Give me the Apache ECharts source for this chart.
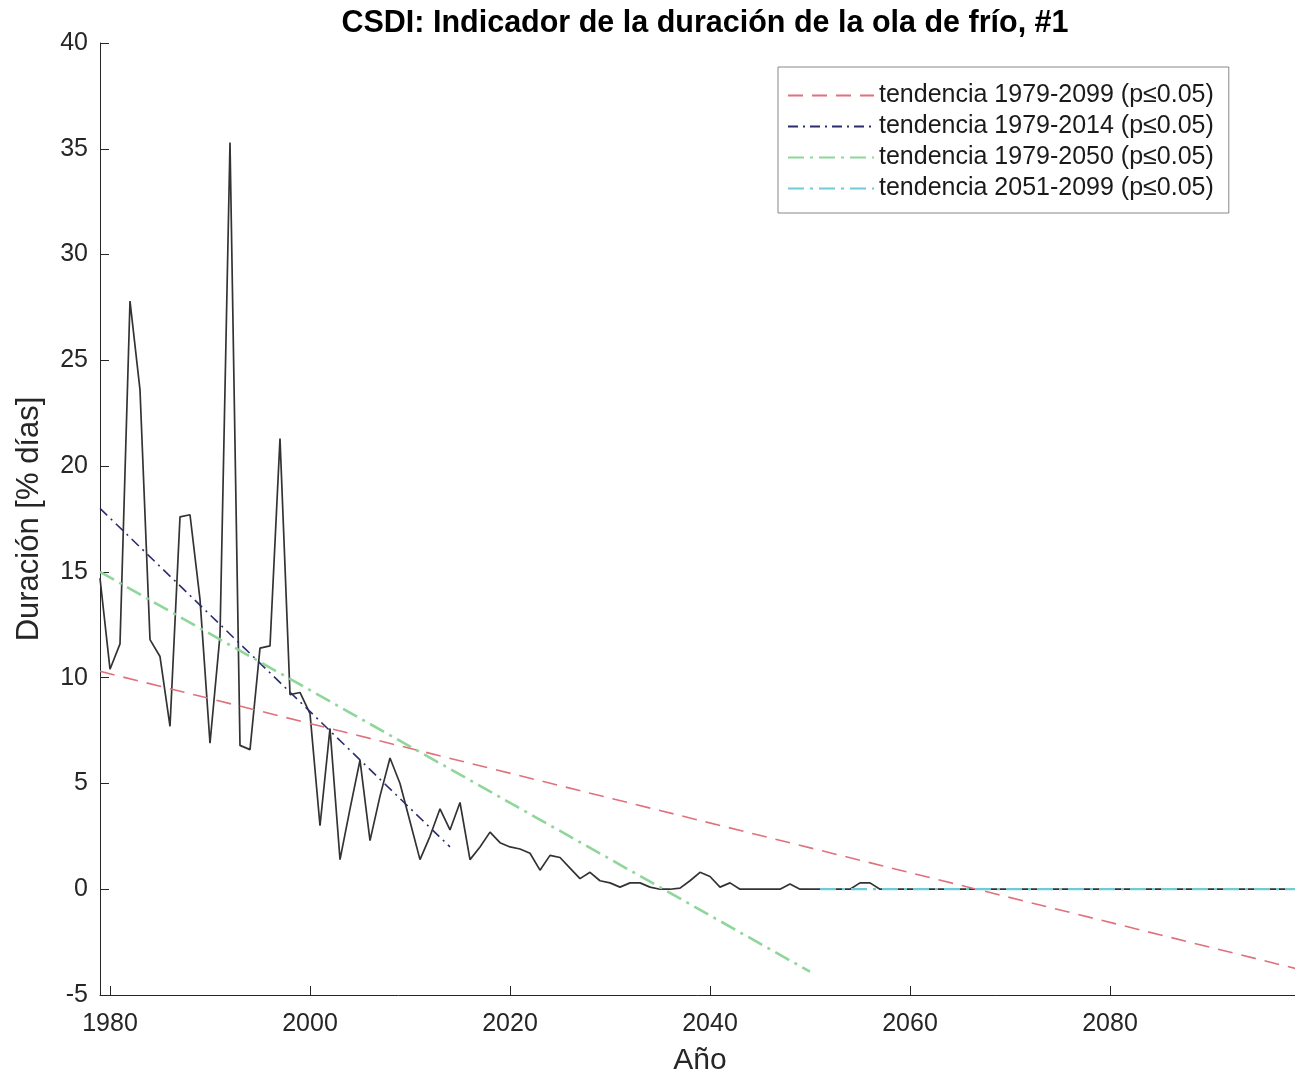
<!DOCTYPE html>
<html>
<head>
<meta charset="utf-8">
<script src="https://cdn.jsdelivr.net/npm/echarts@6/dist/echarts.min.js"></script>
<style>
html,body{margin:0;padding:0;background:#fff;}
#chart{width:1295px;height:1078px;}
</style>
</head>
<body>
<div id="chart"></div>
<script>
// ---- data ----
const years = [
1979,1980,1981,1982,1983,1984,1985,1986,1987,1988,1989,1990,1991,1992,1993,1994,1995,1996,1997,1998,1999,
2000,2001,2002,2003,2004,2005,2006,2007,2008,2009,2010,2011,2012,2013,2014,2015,2016,2017,2018,2019,
2020,2021,2022,2023,2024,2025,2026,2027,2028,2029,2030,2031,2032,2033,2034,2035,2036,2037,2038,2039,
2040,2041,2042,2043,2044,2045,2046,2047,2048,2049,2050,2051,2052,2053,2054,2055,2056,2057,2058,2059,
2060,2061,2062,2063,2064,2065,2066,2067,2068,2069,2070,2071,2072,2073,2074,2075,2076,2077,2078,2079,
2080,2081,2082,2083,2084,2085,2086,2087,2088,2089,2090,2091,2092,2093,2094,2095,2096,2097,2098,2099
];
const csdi = [
14.7,10.4,11.6,27.8,23.6,11.8,11.0,7.7,17.6,17.7,13.7,6.9,12.0,35.3,6.8,6.6,11.4,11.5,21.3,9.2,9.3,
8.3,3.0,7.6,1.4,3.8,6.1,2.3,4.4,6.2,5.0,3.2,1.4,2.5,3.8,2.8,4.1,1.4,2.0,2.7,2.2,
2.0,1.9,1.7,0.9,1.6,1.5,1.0,0.5,0.8,0.4,0.3,0.1,0.3,0.3,0.1,0.0,0.0,0.05,0.4,0.8,
0.6,0.1,0.3,0.0,0,0,0,0,0.25,0,0,0,0,0,0,0.3,0.3,0,0,0,
0,0,0,0,0,0,0,0,0,0,0,0,0,0,0,0,0,0,0,0,
0,0,0,0,0,0,0,0,0,0,0,0,0,0,0,0,0,0,0,0
];
const trendAllYears = [1979, 2099];
const trendAllVals  = [10.3, -3.8];
const trendHistYears = [1979, 2014];
const trendHistVals  = [18.0, 2.0];
const trendNearYears = [1979, 2050];
const trendNearVals  = [15.0, -3.9];
const trendFarYears = [2051, 2099];
const trendFarVals  = [0.0, 0.0];
const xTicks = [1980, 2000, 2020, 2040, 2060, 2080];
const legendNames = [
  'tendencia 1979-2099 (p\u22640.05)',
  'tendencia 1979-2014 (p\u22640.05)',
  'tendencia 1979-2050 (p\u22640.05)',
  'tendencia 2051-2099 (p\u22640.05)'
];
const titleText = 'CSDI: Indicador de la duraci\u00f3n de la ola de fr\u00edo, #1';

function pairs(xs, ys){ return xs.map((x,i)=>[x, ys[i]]); }

const FONT = '"Liberation Sans", Arial, Helvetica, sans-serif';
const AX = '#262626';

const trendColors = ['#e0707c', '#2b2d6e', '#8fd69a', '#6fcbd8'];

const chart = echarts.init(document.getElementById('chart'), null, {renderer:'canvas'});
chart.setOption({
  animation: false,
  backgroundColor: '#ffffff',
  title: {
    text: titleText,
    left: 700, top: 3, textAlign: 'center',
    textStyle: {fontFamily: FONT, fontSize: 30.5, fontWeight: 'bold', color: '#000'}
  },
  legend: {
    data: legendNames,
    orient: 'vertical',
    left: 778, top: 67,
    itemWidth: 86, itemHeight: 20, itemGap: 6,
    padding: [16, 15, 12, 9],
    borderColor: '#888', borderWidth: 1,
    itemStyle: {opacity: 0},
    textStyle: {fontFamily: FONT, fontSize: 25, color: '#1a1a1a'}
  },
  grid: {left: 100, top: 43, width: 1200, height: 952, containLabel: false, outerBoundsMode: 'none'},
  xAxis: {
    type: 'value', min: 1979, max: 2099,
    name: 'A\u00f1o', nameLocation: 'middle', nameGap: 51,
    nameTextStyle: {fontFamily: FONT, fontSize: 30, color: AX},
    axisLine: {show: true, onZero: false, lineStyle: {color: AX, width: 1}},
    axisTick: {show: true, inside: true, length: 9, customValues: xTicks, lineStyle: {color: AX}},
    axisLabel: {customValues: xTicks, margin: 17, fontFamily: FONT, fontSize: 25, color: AX,
      formatter: function(v){ return String(v); }},
    splitLine: {show: false}
  },
  yAxis: {
    type: 'value', min: -5, max: 40, interval: 5,
    name: 'Duraci\u00f3n [% d\u00edas]', nameLocation: 'middle', nameGap: 55, nameRotate: 90,
    nameTextStyle: {fontFamily: FONT, fontSize: 31, color: AX},
    axisLine: {show: true, onZero: false, lineStyle: {color: AX, width: 1}},
    axisTick: {show: true, inside: true, length: 9, lineStyle: {color: AX}},
    axisLabel: {margin: 12, fontFamily: FONT, fontSize: 25, color: AX},
    splitLine: {show: false}
  },
  series: [
    {
      name: 'CSDI', type: 'line', data: pairs(years, csdi),
      symbol: 'none', lineStyle: {color: '#333333', width: 1.7}, z: 2
    },
    {
      name: legendNames[0], type: 'line', data: pairs(trendAllYears, trendAllVals),
      symbol: 'none', itemStyle: {color: trendColors[0]},
      lineStyle: {color: trendColors[0], width: 1.6, type: [15, 9]}, z: 3
    },
    {
      name: legendNames[1], type: 'line', data: pairs(trendHistYears, trendHistVals),
      symbol: 'none', itemStyle: {color: trendColors[1]},
      lineStyle: {color: trendColors[1], width: 1.6, type: [10, 5, 2, 5]}, z: 3
    },
    {
      name: legendNames[2], type: 'line', data: pairs(trendNearYears, trendNearVals),
      symbol: 'none', itemStyle: {color: trendColors[2]},
      lineStyle: {color: trendColors[2], width: 2.6, type: [16, 6, 3, 6]}, z: 3
    },
    {
      name: legendNames[3], type: 'line', data: pairs(trendFarYears, trendFarVals),
      symbol: 'none', itemStyle: {color: trendColors[3]},
      lineStyle: {color: trendColors[3], width: 2.2, type: [16, 6, 3, 6]}, z: 3
    }
  ]
});
</script>
</body>
</html>
